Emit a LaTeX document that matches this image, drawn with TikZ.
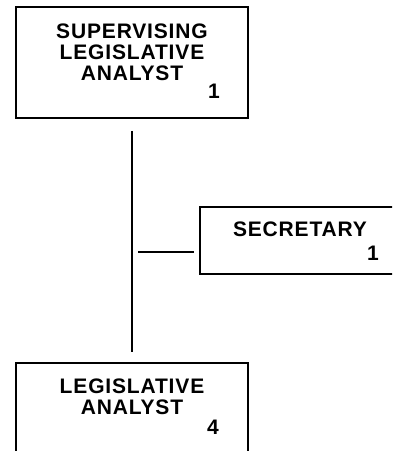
\documentclass[tikz,border=0pt]{standalone}
\usepackage{fontspec}
\newfontfamily\orgfont[LetterSpace=4]{Liberation Sans}
\usepackage{tikz}
\usetikzlibrary{positioning, calc}

\begin{document}
\begin{tikzpicture}[x=1pt, y=-1pt]
		\tikzstyle{post}=[rectangle, draw, line width=1.8pt, inner sep=0pt]
		\tikzstyle{title}=[align=center, inner sep=0pt, font=\orgfont\bfseries\fontsize{21}{21}\selectfont]
		\tikzstyle{count}=[inner sep=0pt, font=\orgfont\bfseries\fontsize{21}{21}\selectfont]
		\tikzstyle{link}=[line width=1.8pt]

		\useasboundingbox (0,0) rectangle (392,451);
		\clip (0,0) rectangle (392,451);

		\node[post, minimum width=232pt, minimum height=111pt] (supervisor) at (132,62.5) {};
		\node[title, anchor=north, below=18pt of supervisor.north] (supervisorTitle) {
			SUPERVISING\\ LEGISLATIVE\\ ANALYST
		};
		\node[count, anchor=base east] (supervisorCount) at ([shift={(-29,-20)}]supervisor.south east) {1};

		\node[post, minimum width=200pt, minimum height=67pt] (secretary) at (300,240.5) {};
		\node[title, anchor=north, below=16pt of secretary.north] (secretaryTitle) {SECRETARY};
		\node[count, anchor=base east] (secretaryCount) at ([shift={(-22,-14)}]secretary.south east) {1};

		\node[post, minimum width=232pt, minimum height=120pt] (analyst) at (132,423) {};
		\node[title, anchor=north, below=17pt of analyst.north] (analystTitle) {
			LEGISLATIVE\\ ANALYST
		};
		\node[count, anchor=base east] (analystCount) at ([shift={(-30,72)}]analyst.north east) {4};

		\coordinate (tap) at (132,252);

		\draw[link, shorten <=12pt, shorten >=10pt] (supervisor.south) -- (analyst.north);
		\draw[link, shorten <=6pt, shorten >=5pt] (tap) -- (tap -| secretary.west);

\end{tikzpicture}
\end{document}
